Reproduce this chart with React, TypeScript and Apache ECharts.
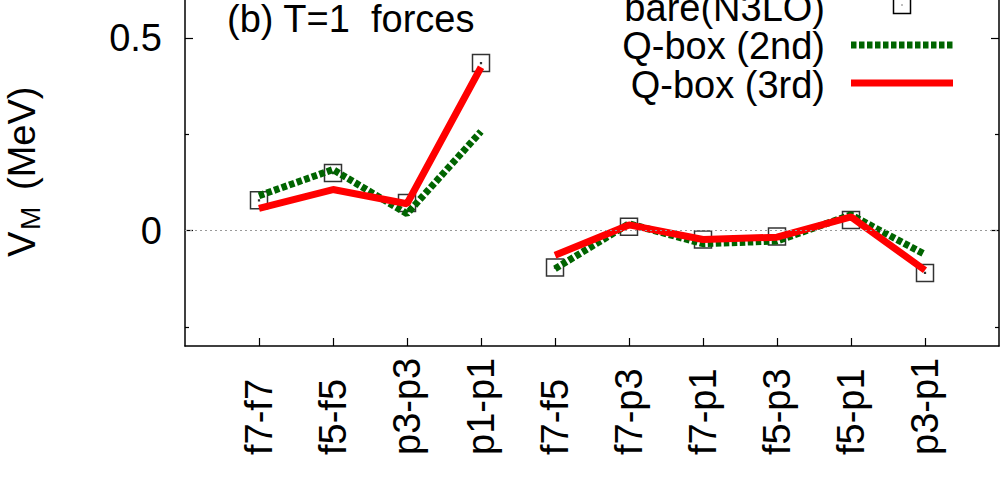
import React, { useEffect, useRef } from "react";
import * as echarts from "echarts";

const categories = ["f7-f7", "f5-f5", "p3-p3", "p1-p1", "f7-f5", "f7-p3", "f7-p1", "f5-p3", "f5-p1", "p3-p1"];
const bareN3LO = [0.079, 0.150, 0.072, 0.436, -0.096, 0.010, -0.023, -0.015, 0.028, -0.110];
const qbox2nd = [0.091, 0.159, 0.044, 0.258, -0.099, 0.018, -0.034, -0.027, 0.041, -0.062];
const qbox3rd = [0.058, 0.107, 0.070, 0.425, -0.064, 0.015, -0.023, -0.017, 0.036, -0.103];
const segments = [[0, 3], [4, 9]];
const yMajorTicks = [0, 0.5];
const yMinorTicks = [-0.25, 0.25];
const xTicks = categories.map((_, i) => i + 1);

const FONT = "Liberation Sans, Arial, Helvetica, sans-serif";
const FS = 38;

function segData(values: number[], seg: number[]) {
  const out: number[][] = [];
  for (let i = seg[0]; i <= seg[1]; i++) out.push([i + 1, values[i]]);
  return out;
}

export default function App() {
  const ref = useRef<HTMLDivElement>(null);
  useEffect(() => {
    if (!ref.current) return;
    const chart = echarts.init(ref.current, null, { renderer: "svg" });
    const axisCommon = {
      type: "value",
      min: -0.3,
      max: 0.6,
      splitLine: { show: false },
    };
    const series: any[] = [
      {
        name: "bare(N3LO)",
        type: "scatter",
        data: bareN3LO.map((v, i) => [i + 1, v]),
        symbol: "path://M0,0H18V18H0Z M8.6,8.6H9.4V9.4H8.6Z",
        symbolSize: 17,
        itemStyle: { color: "rgba(0,0,0,0)", borderColor: "#000", borderWidth: 1.5 },
        z: 2,
        markLine: {
          silent: true,
          symbol: "none",
          label: { show: false },
          lineStyle: { color: "#999", type: [2, 3], width: 1 },
          data: [{ yAxis: 0 }],
        },
      },
    ];
    segments.forEach((seg) => {
      series.push({
        name: "Q-box (2nd)",
        type: "line",
        data: segData(qbox2nd, seg),
        symbol: "none",
        lineStyle: { color: "#006400", width: 7, type: [5.5, 2.5], cap: "butt" },
        z: 3,
      });
    });
    segments.forEach((seg) => {
      series.push({
        name: "Q-box (3rd)",
        type: "line",
        data: segData(qbox3rd, seg),
        symbol: "none",
        lineStyle: { color: "#ff0000", width: 7 },
        z: 4,
      });
    });

    const legendX = 825;
    chart.setOption({
      animation: false,
      grid: { left: 185, right: 1, top: -4, bottom: 140, containLabel: false },
      xAxis: {
        type: "value",
        min: 0,
        max: 11,
        interval: 1,
        splitLine: { show: false },
        axisLine: { show: true, onZero: false, lineStyle: { color: "#000", width: 1.5 } },
        axisTick: { show: true, inside: true, length: 8, customValues: xTicks, lineStyle: { color: "#000", width: 1.2 } },
        axisLabel: {
          customValues: xTicks,
          rotate: 90,
          align: "left",
          verticalAlign: "middle",
          margin: 109,
          fontSize: FS,
          fontFamily: FONT,
          color: "#000",
          formatter: (v: number) => categories[Math.round(v) - 1] ?? "",
        },
      },
      yAxis: [
        {
          ...axisCommon,
          position: "left",
          axisLine: { show: true, onZero: false, lineStyle: { color: "#000", width: 1.5 } },
          axisTick: { show: true, inside: true, length: 8, customValues: yMajorTicks, lineStyle: { color: "#000", width: 1.2 } },
          axisLabel: {
            customValues: yMajorTicks,
            margin: 23,
            fontSize: FS,
            fontFamily: FONT,
            color: "#000",
          },
        },
        {
          ...axisCommon,
          position: "left",
          axisLine: { show: false },
          axisTick: { show: true, inside: true, length: 4, customValues: yMinorTicks, lineStyle: { color: "#000", width: 1.2 } },
          axisLabel: { show: false },
        },
        {
          ...axisCommon,
          position: "right",
          axisLine: { show: true, onZero: false, lineStyle: { color: "#000", width: 1.5 } },
          axisTick: { show: true, inside: true, length: 8, customValues: yMajorTicks, lineStyle: { color: "#000", width: 1.2 } },
          axisLabel: { show: false },
        },
        {
          ...axisCommon,
          position: "right",
          axisLine: { show: false },
          axisTick: { show: true, inside: true, length: 4, customValues: yMinorTicks, lineStyle: { color: "#000", width: 1.2 } },
          axisLabel: { show: false },
        },
      ],
      series,
      graphic: [
        {
          type: "text",
          left: 227,
          top: 0,
          style: { text: "(b) T=1  forces", font: `${FS}px ${FONT}`, fill: "#000" },
        },
        {
          type: "text",
          x: 22,
          y: 257,
          rotation: Math.PI / 2,
          style: { text: "V", font: `${FS}px ${FONT}`, fill: "#000", align: "left", verticalAlign: "middle" },
        },
        {
          type: "text",
          x: 30,
          y: 230,
          rotation: Math.PI / 2,
          style: { text: "M", font: `28px ${FONT}`, fill: "#000", align: "left", verticalAlign: "middle" },
        },
        {
          type: "text",
          x: 22,
          y: 190,
          rotation: Math.PI / 2,
          style: { text: "(MeV)", font: `${FS}px ${FONT}`, fill: "#000", align: "left", verticalAlign: "middle" },
        },
        {
          type: "text",
          x: legendX,
          y: 8,
          style: { text: "bare(N3LO)", font: `${FS}px ${FONT}`, fill: "#000", align: "right", verticalAlign: "middle" },
        },
        {
          type: "rect",
          shape: { x: 893.5, y: -3.5, width: 17, height: 17 },
          style: { fill: "none", stroke: "#000", lineWidth: 1.5 },
        },
        {
          type: "rect",
          shape: { x: 901.5, y: 4.5, width: 1, height: 1 },
          style: { fill: "#000" },
        },
        {
          type: "text",
          x: legendX,
          y: 46,
          style: { text: "Q-box (2nd)", font: `${FS}px ${FONT}`, fill: "#000", align: "right", verticalAlign: "middle" },
        },
        {
          type: "line",
          shape: { x1: 851, y1: 45, x2: 953, y2: 45 },
          style: { stroke: "#006400", lineWidth: 7, lineDash: [5.5, 2.5], lineCap: "butt" },
        },
        {
          type: "text",
          x: legendX,
          y: 85,
          style: { text: "Q-box (3rd)", font: `${FS}px ${FONT}`, fill: "#000", align: "right", verticalAlign: "middle" },
        },
        {
          type: "line",
          shape: { x1: 851, y1: 83, x2: 953, y2: 83 },
          style: { stroke: "#ff0000", lineWidth: 7 },
        },
      ],
    });
    return () => chart.dispose();
  }, []);
  return (
    <div
      ref={ref}
      style={{ position: "absolute", left: 0, top: 0, width: 1000, height: 486, background: "#fff" }}
    />
  );
}
